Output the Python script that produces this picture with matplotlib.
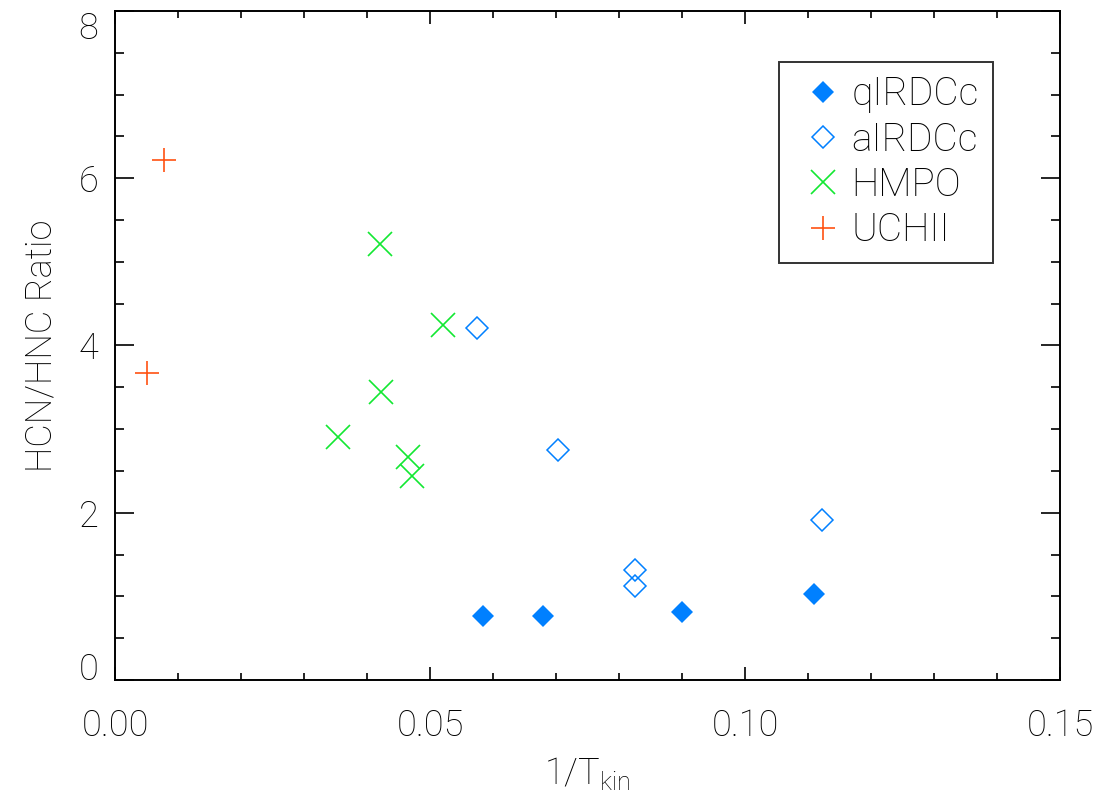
import matplotlib
matplotlib.use("Agg")
from matplotlib import pyplot, ticker

# HCN/HNC ratio vs 1/Tkin
qirdc_x = [0.0584, 0.0679, 0.0900, 0.1110]
qirdc_y = [0.76, 0.77, 0.81, 1.03]

airdc_x = [0.0574, 0.0703, 0.0825, 0.0825, 0.1122]
airdc_y = [4.21, 2.75, 1.31, 1.12, 1.91]

hmpo_x = [0.0421, 0.0520, 0.0422, 0.0354, 0.0465, 0.0471]
hmpo_y = [5.21, 4.25, 3.44, 2.90, 2.67, 2.44]

uchii_x = [0.0077, 0.0051]
uchii_y = [6.22, 3.67]

xticks = [0.00, 0.05, 0.10, 0.15]
xticklabels = ["0.00", "0.05", "0.10", "0.15"]
yticks = [0, 2, 4, 6, 8]
yticklabels = ["0", "2", "4", "6", "8"]

pyplot.rcParams["font.family"] = ["Roboto", "DejaVu Sans"]
pyplot.rcParams["font.weight"] = "light"
pyplot.rcParams["axes.labelweight"] = "light"
pyplot.rcParams["mathtext.fontset"] = "custom"
pyplot.rcParams["mathtext.rm"] = "Roboto:weight=light"
pyplot.rcParams["mathtext.it"] = "Roboto:weight=light"

blue = "#0080ff"
green = "#12e832"
orange = "#ff5212"

fig = pyplot.figure(figsize=(11.07, 7.98), dpi=100)
ax = fig.add_axes([0.1039, 0.1479, 0.8537, 0.8383])

ax.plot(qirdc_x, qirdc_y, linestyle="none", marker="D", markersize=11.5,
        color=blue, markeredgewidth=0, label="qIRDCc")
ax.plot(airdc_x, airdc_y, linestyle="none", marker="D", markersize=11.5,
        markerfacecolor="none", markeredgecolor=blue, markeredgewidth=1.1, label="aIRDCc")
ax.plot(hmpo_x, hmpo_y, linestyle="none", marker="x", markersize=17,
        color=green, markeredgewidth=1.2, label="HMPO")
ax.plot(uchii_x, uchii_y, linestyle="none", marker="+", markersize=17,
        color=orange, markeredgewidth=1.2, label="UCHII")

ax.set_xlim(0, 0.15)
ax.set_ylim(0, 8)
ax.set_xticks(xticks)
ax.set_xticklabels(xticklabels)
ax.set_yticks(yticks)
ax.set_yticklabels(yticklabels)
ax.xaxis.set_minor_locator(ticker.MultipleLocator(0.01))
ax.yaxis.set_minor_locator(ticker.MultipleLocator(0.5))

for side in ax.spines.values():
    side.set_linewidth(1.4)
    side.set_color("black")

ax.tick_params(axis="both", which="both", direction="in", top=True, right=True,
               width=1.2, colors="black", labelsize=26)
ax.tick_params(axis="x", which="major", length=9.5, pad=20)
ax.tick_params(axis="x", which="minor", length=5)
ax.tick_params(axis="y", which="major", length=13.5, pad=12)
ax.tick_params(axis="y", which="minor", length=6.8)

# end labels sit inside the axis range, like the IDL original
ylabs = ax.get_yticklabels()
ylabs[0].set_verticalalignment("baseline")
ylabs[-1].set_verticalalignment("top")

ax.set_xlabel(r"1/T$_{\rm kin}$", fontsize=26, labelpad=8)
ax.set_ylabel("HCN/HNC Ratio", fontsize=26, labelpad=14)

leg = ax.legend(loc="upper left", bbox_to_anchor=(0.703, 0.924), borderaxespad=0,
                fontsize=28, frameon=True, fancybox=False, shadow=False,
                handletextpad=0.0, labelspacing=0.2, borderpad=0.36,
                handlelength=1.5, markerscale=1.0)
leg.get_frame().set_edgecolor("black")
leg.get_frame().set_linewidth(1.4)

fig.savefig("out.png", dpi=100)
